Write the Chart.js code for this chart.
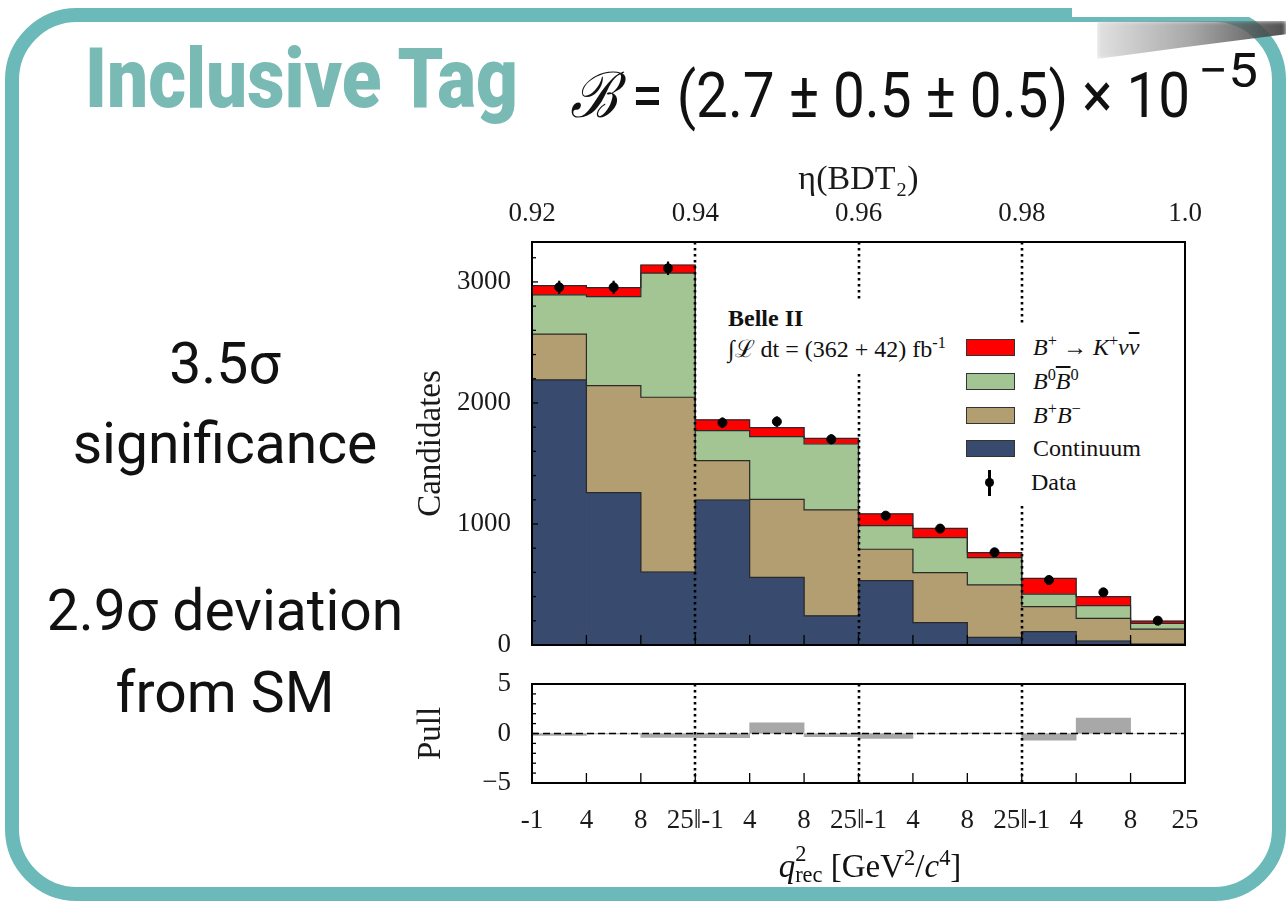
<!DOCTYPE html>
<html>
<head>
<meta charset="utf-8">
<script src="https://cdn.jsdelivr.net/npm/chart.js@4.4.1/dist/chart.umd.min.js"></script>
<style>
  html, body { margin: 0; padding: 0; background: #fff; }
  body { width: 1286px; height: 903px; position: relative; overflow: hidden; font-family: Roboto, sans-serif; color: #111; }
  .abs { position: absolute; white-space: nowrap; line-height: 1; }
  .frame { position: absolute; left: 5px; top: 8px; width: 1253px; height: 865px; border: 14px solid #6bb9b8; border-radius: 72px; }
  .cover { position: absolute; left: 1072px; top: 0; width: 214px; height: 17px; background: #fff; }
  .smudge { position: absolute; left: 1097px; top: 21px; width: 189px; height: 38px;
    background: linear-gradient(90deg, rgba(190,190,190,.45), rgba(130,130,130,.7) 50%, rgba(60,60,60,.9));
    clip-path: polygon(0 0, 100% 0, 100% 35%, 45% 70%, 0 100%); filter: blur(2px); }
  .fit { transform-origin: left top; }
  .big { left: 0; width: 450px; text-align: center; font-size: 57px; }
  canvas { position: absolute; }
  .serif { font-family: 'Liberation Serif', serif; }
  .box { position: absolute; background: #fff; }
  .legend { position: absolute; left: 960px; top: 331px; font-size: 24px; }
  .row { height: 33.7px; display: flex; align-items: center; }
  .sw { width: 47px; height: 15px; margin-left: 6px; border: 1px solid #333; }
  .lab { margin-left: 18px; }
  .ov { text-decoration: overline; }
  sup, sub { font-size: 0.68em; line-height: 0; }
  .ss { display: inline-block; vertical-align: -0.25em; line-height: 0.95; font-size: 0.68em; text-align: left; }
</style>
</head>
<body>
<div class="frame"></div>
<div class="cover"></div>
<div class="smudge"></div>

<div id="title" class="abs fit" style="left:85px; top:37px; font-size:84px; font-weight:900; color:#79bab5;">Inclusive Tag</div>
<div id="formula" class="abs fit" style="left:570px; top:64px; font-size:63px;"><span style="font-family:'DejaVu Serif'; font-style:italic;">ℬ</span> = (2.7 ± 0.5 ± 0.5) × 10</div>
<div id="expo" class="abs fit" style="left:1198px; top:47px; font-size:48px;">−5</div>

<div class="abs big" style="top:335px;">3.5σ</div>
<div class="abs big" style="top:415px;">significance</div>
<div class="abs big" style="top:582px;">2.9σ deviation</div>
<div class="abs big" style="top:664px;">from SM</div>

<canvas id="main" width="830" height="500" style="left:400px; top:160px;"></canvas>
<canvas id="pull" width="830" height="240" style="left:400px; top:660px;"></canvas>

<!-- text panel and legend sit on white boxes, like the matplotlib ones -->
<div class="box" style="left:718px; top:300px; width:240px; height:72px;"></div>
<div class="abs serif" style="left:728px; top:306px; font-size:24px; font-weight:700;">Belle II</div>
<div class="abs serif" style="left:728px; top:337px; font-size:24px;">∫ℒ dt = (362 + 42) fb<sup>-1</sup></div>

<div class="box" style="left:955px; top:326px; width:222px; height:180px;"></div>
<div class="legend serif">
  <div class="row"><div class="sw" style="background:#ff0000"></div><div class="lab"><i>B</i><sup>+</sup> → <i>K</i><sup>+</sup><i>ν</i><i class="ov">ν</i></div></div>
  <div class="row"><div class="sw" style="background:#a3c593"></div><div class="lab"><i>B</i><sup>0</sup><i class="ov">B</i><sup>0</sup></div></div>
  <div class="row"><div class="sw" style="background:#b29e71"></div><div class="lab"><i>B</i><sup>+</sup><i>B</i><sup>−</sup></div></div>
  <div class="row"><div class="sw" style="background:#394a6f"></div><div class="lab">Continuum</div></div>
  <div class="row"><div style="width:47px; margin-left:6px; height:28px; position:relative;">
      <div style="position:absolute; left:22px; top:1px; width:2.5px; height:26px; background:#000;"></div>
      <div style="position:absolute; left:18.5px; top:9.5px; width:9px; height:9px; border-radius:50%; background:#000;"></div>
    </div><div class="lab">Data</div></div>
</div>

<div class="abs serif" style="left:670px; top:843px; width:400px; text-align:center; font-size:33px;"><i>q</i><span class="ss">2<br>rec</span> [GeV<sup>2</sup>/<i>c</i><sup>4</sup>]</div>

<script>
// q2_rec bins, four per eta(BDT2) group
const bottomTickLabels = ['-1', '4', '8', '25‖-1', '4', '8', '25‖-1', '4', '8', '25‖-1', '4', '8', '25'];
const topTickLabels = ['0.92', '0.94', '0.96', '0.98', '1.0'];
const groupEdges = [3, 6, 9];

// stacked components (candidates per bin)
const continuum   = [2190, 1259, 603, 1198, 559, 240, 532, 185, 63, 110, 33, 8];
const bPlusBMinus = [378, 884, 1444, 325, 645, 876, 259, 413, 433, 207, 187, 124];
const b0B0bar     = [325, 736, 1025, 248, 518, 545, 195, 289, 226, 104, 105, 47];
const signal      = [76, 74, 68, 89, 74, 47, 97, 77, 41, 130, 74, 19];

const dataCounts = [2956, 2956, 3113, 1837, 1846, 1700, 1069, 962, 766, 537, 435, 201];
const dataErrors = [54, 54, 56, 43, 43, 41, 33, 31, 28, 23, 21, 14];

const pulls = [-0.2, -0.05, -0.4, -0.43, 1.07, -0.33, -0.5, -0.05, 0.03, -0.67, 1.57, 0.0];

const nBins = bottomTickLabels.length - 1;

Chart.defaults.font.family = "'Liberation Serif', serif";
Chart.defaults.color = '#1a1a1a';

// put values at bin centres
function centers(values) {
    return values.map((y, i) => ({ x: i + 0.5, y: y }));
}

// step outline of a stack layer (left edges + closing right edge)
function stepOutline(values) {
    const pts = values.map((y, i) => ({ x: i, y: y }));
    pts.push({ x: values.length, y: values[values.length - 1] });
    return pts;
}

// fit a text block to a given width (condensed slide font)
function fitWidth(id, target) {
    const el = document.getElementById(id);
    const w = el.getBoundingClientRect().width;
    el.style.transform = 'scaleX(' + (target / w) + ')';
}
fitWidth('title', 433);
fitWidth('formula', 620);
fitWidth('expo', 60);

// fixed axis boxes so both panels line up
function fixWidth(w) {
    return s => { s.width = w; s.paddingTop = 0; s.paddingBottom = 0; };
}
function fixHeight(h) {
    return s => { s.height = h; s.paddingLeft = 0; s.paddingRight = 0; };
}

const decorations = {
    id: 'decorations',
    afterDatasetsDraw(chart, args, opts) {
        const ctx = chart.ctx;
        const a = chart.chartArea;
        const xs = chart.scales.x;
        const ys = chart.scales.y;
        const line = (x1, y1, x2, y2) => { ctx.beginPath(); ctx.moveTo(x1, y1); ctx.lineTo(x2, y2); ctx.stroke(); };
        ctx.save();
        ctx.strokeStyle = '#000';

        // error bars on data
        if (opts.values) {
            ctx.lineWidth = 2.2;
            opts.values.forEach((v, i) => {
                const x = xs.getPixelForValue(i + 0.5);
                line(x, ys.getPixelForValue(v - opts.errors[i]), x, ys.getPixelForValue(v + opts.errors[i]));
            });
        }

        // dotted group separators
        ctx.setLineDash([2.5, 3.5]);
        ctx.lineWidth = 2.6;
        groupEdges.forEach(e => {
            const x = Math.round(xs.getPixelForValue(e));
            line(x, a.top, x, a.bottom);
        });
        ctx.setLineDash([]);

        // inward ticks
        ctx.lineWidth = 1.3;
        for (let e = 1; e < nBins; e++) {
            const x = xs.getPixelForValue(e);
            line(x, a.bottom, x, a.bottom - 10);
        }
        ys.ticks.forEach(t => {
            const y = ys.getPixelForValue(t.value);
            const len = t.value % opts.major === 0 ? 6 : 4;
            line(a.left, y, a.left + len, y);
        });

        // frame
        ctx.lineWidth = 2;
        ctx.strokeRect(a.left, a.top, a.right - a.left, a.bottom - a.top);
        ctx.restore();
    }
};

const layers = [
    { values: continuum, color: '#394a6f' },
    { values: bPlusBMinus, color: '#b29e71' },
    { values: b0B0bar, color: '#a3c593' },
    { values: signal, color: '#ff0000' }
];

const barSets = layers.map(l => ({
    type: 'bar',
    data: centers(l.values),
    backgroundColor: l.color,
    borderWidth: 0,
    order: 2
}));

let running = new Array(nBins).fill(0);
const outlineSets = layers.map((l, k) => {
    running = running.map((r, i) => r + l.values[i]);
    return {
        type: 'line',
        data: stepOutline(running),
        stepped: true,
        borderColor: '#2a2a2a',
        borderWidth: 1.2,
        pointRadius: 0,
        fill: false,
        stack: 'outline' + k,
        order: 1
    };
});

const dataSet = {
    type: 'line',
    data: centers(dataCounts),
    showLine: false,
    pointRadius: 4.5,
    pointBackgroundColor: '#000',
    pointBorderColor: '#000',
    stack: 'data',
    order: 0
};

const tickFont = { size: 27 };
const titleFont = { size: 33 };

new Chart(document.getElementById('main'), {
    type: 'bar',
    data: { datasets: [dataSet, ...outlineSets, ...barSets] },
    plugins: [decorations],
    options: {
        responsive: false,
        animation: false,
        devicePixelRatio: 1,
        layout: { padding: { left: 0, right: 45, top: 0, bottom: 0 } },
        datasets: { bar: { barPercentage: 1, categoryPercentage: 1 } },
        scales: {
            x: {
                type: 'linear', position: 'bottom', min: 0, max: nBins, offset: false, stacked: true,
                grid: { display: false }, border: { display: false },
                ticks: { display: false, stepSize: 1 },
                afterFit: fixHeight(15)
            },
            x2: {
                type: 'linear', position: 'top', min: 0, max: topTickLabels.length - 1, offset: false,
                grid: { display: false }, border: { display: false },
                ticks: { stepSize: 1, font: tickFont, padding: 4, maxRotation: 0, autoSkip: false,
                         callback: v => topTickLabels[v] },
                title: { display: true, text: 'η(BDT₂)', font: { size: 34 }, padding: { top: 0, bottom: 0 } },
                afterFit: fixHeight(82)
            },
            y: {
                stacked: true, min: 0, max: 3330,
                grid: { display: false }, border: { display: false },
                ticks: { stepSize: 200, includeBounds: false, autoSkip: false, font: tickFont, padding: 13,
                         callback: v => (v % 1000 === 0 ? String(v) : '') },
                title: { display: true, text: 'Candidates', font: titleFont, padding: { top: 12 } },
                afterFit: fixWidth(132)
            }
        },
        plugins: {
            legend: { display: false },
            tooltip: { enabled: false },
            decorations: { values: dataCounts, errors: dataErrors, major: 1000 }
        }
    }
});

new Chart(document.getElementById('pull'), {
    type: 'bar',
    data: {
        datasets: [
            {
                type: 'line',
                data: [{ x: 0, y: 0 }, { x: nBins, y: 0 }],
                borderColor: '#000', borderWidth: 1.5, borderDash: [7, 4],
                pointRadius: 0, order: 0
            },
            {
                type: 'bar',
                data: centers(pulls),
                backgroundColor: '#a8a8a8',
                borderWidth: 0,
                order: 1
            }
        ]
    },
    plugins: [decorations],
    options: {
        responsive: false,
        animation: false,
        devicePixelRatio: 1,
        layout: { padding: { left: 0, right: 45, top: 24, bottom: 0 } },
        datasets: { bar: { barPercentage: 1, categoryPercentage: 1 } },
        scales: {
            x: {
                type: 'linear', min: 0, max: nBins, offset: false,
                grid: { display: false }, border: { display: false },
                ticks: { stepSize: 1, font: tickFont, padding: 14, maxRotation: 0, autoSkip: false,
                         callback: v => bottomTickLabels[v] },
                afterFit: fixHeight(117)
            },
            y: {
                min: -5, max: 5,
                grid: { display: false }, border: { display: false },
                ticks: { stepSize: 1, font: tickFont, padding: 13, autoSkip: false,
                         callback: v => (v === 0 ? '0' : v === 5 ? '5' : v === -5 ? '−5' : '') },
                title: { display: true, text: 'Pull', font: titleFont, padding: { top: 12 } },
                afterFit: fixWidth(132)
            }
        },
        plugins: {
            legend: { display: false },
            tooltip: { enabled: false },
            decorations: { major: 5 }
        }
    }
});
</script>
</body>
</html>
